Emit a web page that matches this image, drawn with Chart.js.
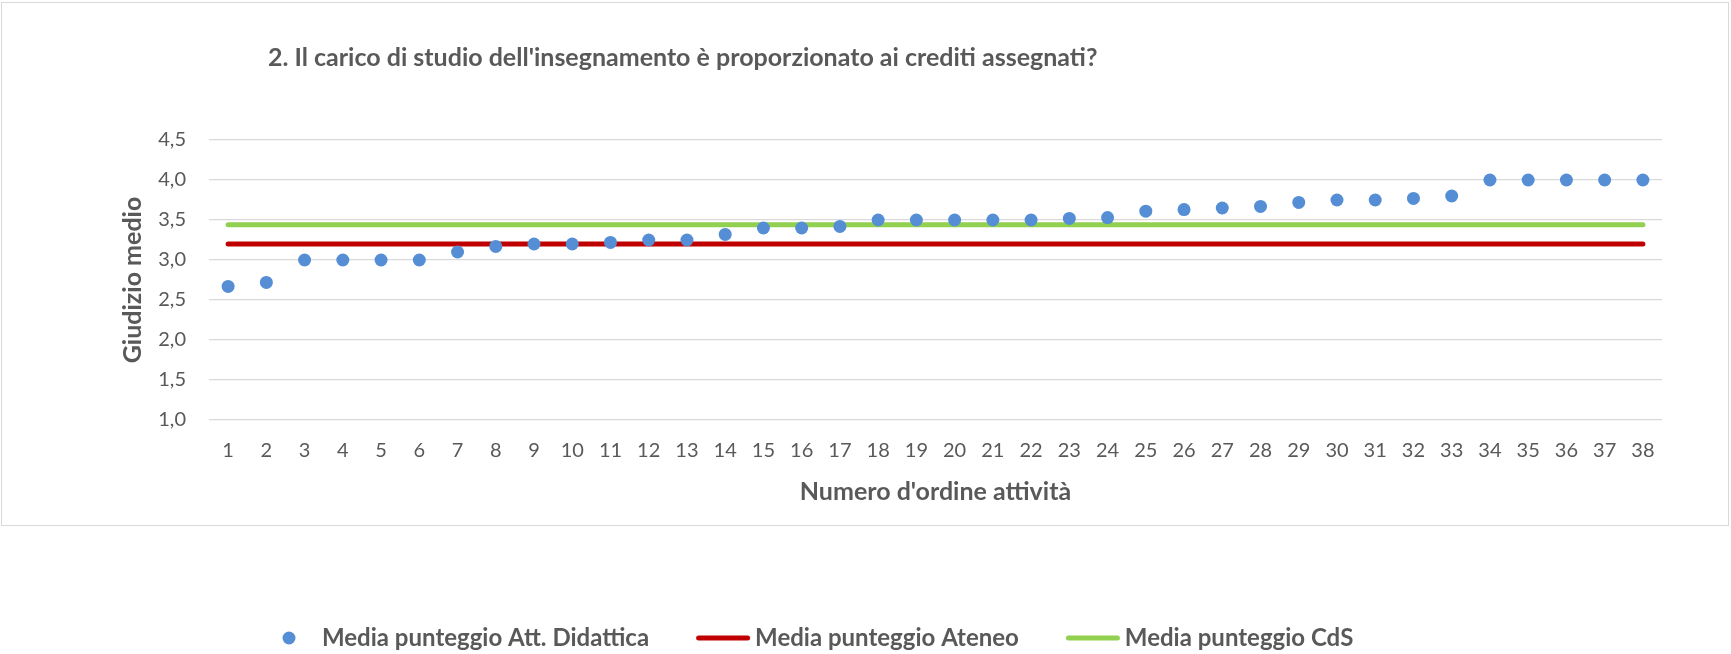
<!DOCTYPE html>
<html lang="it">
<head>
<meta charset="utf-8">
<title>Carico di studio</title>
<script src="https://cdn.jsdelivr.net/npm/chart.js@4.4.1/dist/chart.umd.min.js"></script>
<style>
html, body { margin: 0; padding: 0; background: #fff; overflow: hidden; }
#grafico { display: block; }
</style>
</head>
<body>
<canvas id="grafico" width="1731" height="654"></canvas>
<script>
// dati
var titolo = "2. Il carico di studio dell'insegnamento è proporzionato ai crediti assegnati?";
var titoloAsseX = "Numero d'ordine attività";
var titoloAsseY = "Giudizio medio";
var attivita = ['1','2','3','4','5','6','7','8','9','10','11','12','13','14','15','16','17','18','19',
    '20','21','22','23','24','25','26','27','28','29','30','31','32','33','34','35','36','37','38'];
var mediaAttivita = [2.67, 2.72, 3.00, 3.00, 3.00, 3.00, 3.10, 3.17, 3.20, 3.20, 3.22, 3.25, 3.25,
    3.32, 3.40, 3.40, 3.42, 3.50, 3.50, 3.50, 3.50, 3.50, 3.52, 3.53, 3.61, 3.63, 3.65, 3.67,
    3.72, 3.75, 3.75, 3.77, 3.80, 4.00, 4.00, 4.00, 4.00, 4.00];
var mediaAteneo = [3.20, 3.20, 3.20, 3.20, 3.20, 3.20, 3.20, 3.20, 3.20, 3.20, 3.20, 3.20, 3.20,
    3.20, 3.20, 3.20, 3.20, 3.20, 3.20, 3.20, 3.20, 3.20, 3.20, 3.20, 3.20, 3.20, 3.20, 3.20,
    3.20, 3.20, 3.20, 3.20, 3.20, 3.20, 3.20, 3.20, 3.20, 3.20];
var mediaCdS = [3.44, 3.44, 3.44, 3.44, 3.44, 3.44, 3.44, 3.44, 3.44, 3.44, 3.44, 3.44, 3.44,
    3.44, 3.44, 3.44, 3.44, 3.44, 3.44, 3.44, 3.44, 3.44, 3.44, 3.44, 3.44, 3.44, 3.44, 3.44,
    3.44, 3.44, 3.44, 3.44, 3.44, 3.44, 3.44, 3.44, 3.44, 3.44];
var tickY = [1.0, 1.5, 2.0, 2.5, 3.0, 3.5, 4.0, 4.5];
var nomiSerie = ['Media punteggio Att. Didattica', 'Media punteggio Ateneo', 'Media punteggio CdS'];

var grigio = '#595959',
    blu = '#558ed5',
    rosso = '#c00000',
    verde = '#92d050';

Chart.defaults.font.family = 'Lato';
Chart.defaults.color = grigio;

// icone della legenda (box 64 + 2 x 12)
var iconaLinea = function(colore) {
    var c = document.createElement('canvas');
    c.width = 88; c.height = 8;
    var x = c.getContext('2d');
    x.strokeStyle = colore; x.lineWidth = 5; x.lineCap = 'round';
    x.beginPath(); x.moveTo(31.5, 4); x.lineTo(80.5, 4); x.stroke();
    return c;
};
var iconaPunto = function(colore) {
    var c = document.createElement('canvas');
    c.width = 88; c.height = 16;
    var x = c.getContext('2d');
    x.fillStyle = colore;
    x.beginPath(); x.arc(55, 8, 6.5, 0, Math.PI * 2); x.fill();
    return c;
};
var icone = [iconaPunto(blu), iconaLinea(rosso), iconaLinea(verde)];

var cornice = {
    id: 'cornice',
    beforeDraw: function(chart) {
        var ctx = chart.ctx;
        ctx.save();
        ctx.strokeStyle = '#d9d9d9';
        ctx.lineWidth = 1;
        ctx.strokeRect(1.5, 2.5, 1727, 523);
        ctx.restore();
    }
};
var titoloSpostato = {
    id: 'titoloSpostato',
    afterDraw: function(chart) {
        var ctx = chart.ctx;
        ctx.save();
        ctx.font = 'bold 25px Lato';
        ctx.fillStyle = grigio;
        ctx.textBaseline = 'alphabetic';
        ctx.fillText(titolo, 268, 66);
        ctx.restore();
    }
};
var legendaSpostata = {
    id: 'legendaSpostata',
    afterLayout: function(chart) {
        var l = chart.legend, w = l.right - l.left;
        l.left = 216; l.right = 216 + w;
        l.top += 6; l.bottom += 6;
    }
};

new Chart(document.getElementById('grafico'), {
    type: 'line',
    data: {
        labels: attivita,
        datasets: [{
            label: nomiSerie[0],
            data: mediaAttivita,
            showLine: false,
            pointRadius: 6.5,
            pointHoverRadius: 6.5,
            pointBorderWidth: 0,
            pointBackgroundColor: blu,
            borderColor: blu,
            backgroundColor: blu
        }, {
            label: nomiSerie[1],
            data: mediaAteneo,
            borderColor: rosso,
            backgroundColor: rosso,
            borderWidth: 5,
            borderCapStyle: 'round',
            pointRadius: 0
        }, {
            label: nomiSerie[2],
            data: mediaCdS,
            borderColor: verde,
            backgroundColor: verde,
            borderWidth: 5,
            borderCapStyle: 'round',
            pointRadius: 0
        }]
    },
    options: {
        responsive: false,
        animation: false,
        events: [],
        layout: { padding: { top: 140, right: 69, left: 0, bottom: 0 } },
        plugins: {
            tooltip: { enabled: false },
            title: { display: false },
            legend: {
                position: 'bottom',
                align: 'start',
                labels: {
                    usePointStyle: true,
                    pointStyleWidth: 64,
                    padding: 30,
                    color: grigio,
                    font: { size: 24, weight: 'bold' },
                    generateLabels: function(chart) {
                        var items = Chart.defaults.plugins.legend.labels.generateLabels(chart);
                        items.forEach(function(it, i) { it.pointStyle = icone[i]; });
                        return items;
                    }
                }
            }
        },
        scales: {
            x: {
                offset: true,
                afterFit: function(s) { s.height = 170; },
                grid: { display: false, drawTicks: false },
                border: { display: false },
                ticks: { padding: 19, color: grigio, font: { size: 20 }, autoSkip: false, maxRotation: 0 },
                title: {
                    display: true,
                    text: titoloAsseX,
                    color: grigio,
                    font: { size: 25, weight: 'bold' },
                    padding: { top: 10, bottom: 83 }
                }
            },
            y: {
                min: 1,
                max: 4.5,
                afterFit: function(s) { s.width = 209; },
                afterBuildTicks: function(s) {
                    s.ticks = tickY.map(function(v) { return { value: v }; });
                },
                grid: { color: '#d9d9d9', lineWidth: 1.3, drawTicks: false },
                border: { display: false },
                ticks: {
                    padding: 23,
                    color: grigio,
                    font: { size: 20 },
                    callback: function(v) { return v.toFixed(1).replace('.', ','); }
                },
                title: {
                    display: true,
                    text: titoloAsseY,
                    color: grigio,
                    font: { size: 25, weight: 'bold' },
                    padding: { top: 118, bottom: 0 }
                }
            }
        }
    },
    plugins: [cornice, titoloSpostato, legendaSpostata]
});
</script>
</body>
</html>
